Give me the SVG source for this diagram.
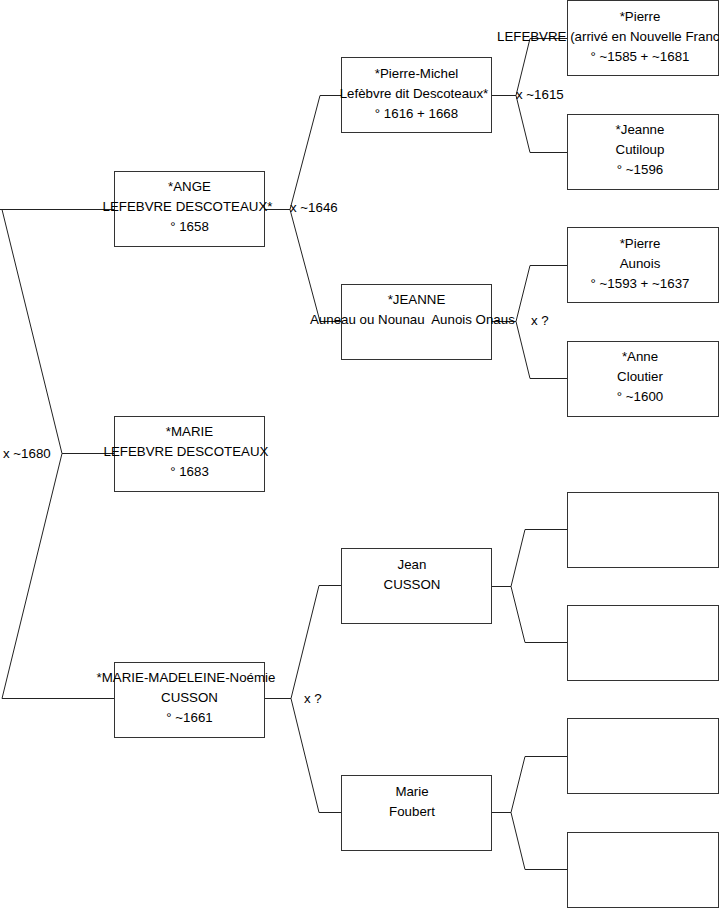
<svg xmlns="http://www.w3.org/2000/svg" width="719" height="908" viewBox="0 0 719 908">
<style>
rect.box{fill:#fff;stroke:#333;stroke-width:1}
.c{fill:none;stroke:#222;stroke-width:1}
text{font-family:"Liberation Sans",Arial,sans-serif;font-size:13.3px;fill:#000}
.m{text-anchor:middle}
</style>
<rect width="719" height="908" fill="#fff"/>
<g id="connectors">
<polyline class="c" points="2,209.5 62,453.5 2,698.5"/>
<line class="c" x1="0" y1="209.5" x2="114" y2="209.5"/>
<line class="c" x1="62" y1="453.5" x2="114" y2="453.5"/>
<line class="c" x1="2" y1="698.5" x2="114" y2="698.5"/>
<line class="c" x1="265" y1="209.5" x2="290" y2="209.5"/>
<polyline class="c" points="341,95.5 320,95.5 290,209.5 320,321.5 341,321.5"/>
<line class="c" x1="491" y1="95.5" x2="516" y2="95.5"/>
<polyline class="c" points="567,38.5 530,38.5 516,95.5 530,152.5 567,152.5"/>
<line class="c" x1="491" y1="321.5" x2="516" y2="321.5"/>
<polyline class="c" points="567,265.5 530,265.5 516,321.5 530,378.5 567,378.5"/>
<line class="c" x1="265" y1="698.5" x2="291" y2="698.5"/>
<polyline class="c" points="341,585.5 319,585.5 291,698.5 319,812.5 341,812.5"/>
<line class="c" x1="491" y1="586.5" x2="511" y2="586.5"/>
<polyline class="c" points="567,529.5 525,529.5 511,586.5 525,642.5 567,642.5"/>
<line class="c" x1="491" y1="812.5" x2="511" y2="812.5"/>
<polyline class="c" points="567,756.5 525,756.5 511,812.5 525,869.5 567,869.5"/>
</g>
<g id="n-ange">
<rect class="box" x="114.5" y="171.5" width="150" height="75"/>
<text class="m" x="189.5" y="191">*ANGE</text>
<text class="m" x="187.5" y="211">LEFEBVRE DESCOTEAUX*</text>
<text class="m" x="189.5" y="230.5">° 1658</text>
</g>
<g id="n-marie">
<rect class="box" x="114.5" y="416.5" width="150" height="75"/>
<text class="m" x="189.5" y="436">*MARIE</text>
<text class="m" x="186" y="456">LEFEBVRE DESCOTEAUX</text>
<text class="m" x="189.5" y="475.5">° 1683</text>
</g>
<g id="n-mm">
<rect class="box" x="114.5" y="662.5" width="150" height="75"/>
<text class="m" x="186" y="682">*MARIE-MADELEINE-Noémie</text>
<text class="m" x="189.5" y="702">CUSSON</text>
<text class="m" x="189.5" y="721.5">° ~1661</text>
</g>
<g id="n-pm">
<rect class="box" x="341.5" y="57.5" width="150" height="75"/>
<text class="m" x="416.5" y="78">*Pierre-Michel</text>
<text class="m" x="414" y="98">Lefèbvre dit Descoteaux*</text>
<text class="m" x="416.5" y="117.5">° 1616 + 1668</text>
</g>
<g id="n-jeanne">
<rect class="box" x="341.5" y="284.5" width="150" height="75"/>
<text class="m" x="416.5" y="304">*JEANNE</text>
<text x="310" y="324" xml:space="preserve">Auneau ou Nounau  Aunois Onaus</text>
</g>
<g id="n-jean">
<rect class="box" x="341.5" y="548.5" width="150" height="75"/>
<text class="m" x="412" y="569">Jean</text>
<text class="m" x="412" y="589">CUSSON</text>
</g>
<g id="n-foubert">
<rect class="box" x="341.5" y="775.5" width="150" height="75"/>
<text class="m" x="412" y="796">Marie</text>
<text class="m" x="412" y="816">Foubert</text>
</g>
<g id="n-pierre">
<rect class="box" x="567.5" y="0.5" width="151" height="75"/>
<text class="m" x="640" y="21">*Pierre</text>
<text x="497" y="41">LEFEBVRE (arrivé en Nouvelle France)</text>
<text class="m" x="640" y="61">° ~1585 + ~1681</text>
</g>
<g id="n-cutiloup">
<rect class="box" x="567.5" y="114.5" width="151" height="75"/>
<text class="m" x="640" y="134">*Jeanne</text>
<text class="m" x="640" y="154">Cutiloup</text>
<text class="m" x="640" y="173.5">° ~1596</text>
</g>
<g id="n-aunois">
<rect class="box" x="567.5" y="227.5" width="151" height="75"/>
<text class="m" x="640" y="248">*Pierre</text>
<text class="m" x="640" y="268">Aunois</text>
<text class="m" x="640" y="287.5">° ~1593 + ~1637</text>
</g>
<g id="n-cloutier">
<rect class="box" x="567.5" y="341.5" width="151" height="75"/>
<text class="m" x="640" y="361">*Anne</text>
<text class="m" x="640" y="381">Cloutier</text>
<text class="m" x="640" y="400.5">° ~1600</text>
</g>
<g id="n-e1"><rect class="box" x="567.5" y="492.5" width="151" height="75"/></g>
<g id="n-e2"><rect class="box" x="567.5" y="605.5" width="151" height="75"/></g>
<g id="n-e3"><rect class="box" x="567.5" y="718.5" width="151" height="75"/></g>
<g id="n-e4"><rect class="box" x="567.5" y="832.5" width="151" height="75"/></g>
<g id="labels">
<text x="3" y="458">x ~1680</text>
<text x="290" y="212">x ~1646</text>
<text x="516" y="99">x ~1615</text>
<text x="531" y="325">x ?</text>
<text x="304" y="703">x ?</text>
</g>
</svg>
